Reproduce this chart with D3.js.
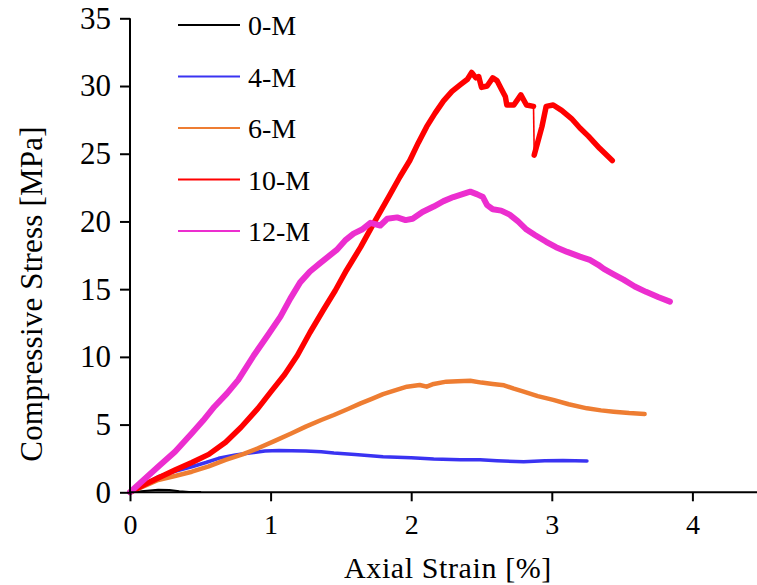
<!DOCTYPE html>
<html>
<head>
<meta charset="utf-8">
<script src="https://cdn.jsdelivr.net/npm/d3@7"></script>
<style>
  html, body { margin: 0; padding: 0; background: #fff; }
  svg { display: block; }
  text { font-family: "Liberation Serif", "Times New Roman", serif; fill: #000; }
</style>
</head>
<body>
<svg id="chart" width="757" height="585"></svg>
<script>
// ---- Data ----
const seriesNames = ["0-M", "4-M", "6-M", "10-M", "12-M"];
const seriesColors = ["#000000", "#3a33f2", "#ee7d32", "#ff0000", "#ec2ecf"];

const data0M = [[0,0],[0.1,0.1],[0.2,0.18],[0.28,0.17],[0.35,0.08],[0.42,0.03],[0.5,0.02]];
const data4M = [[0,0],[0.1,0.6],[0.2,1.15],[0.32,1.55],[0.44,1.89],[0.54,2.2],[0.63,2.51],[0.75,2.75],[0.85,2.9],[0.96,3.05],[1.06,3.08],[1.15,3.07],[1.25,3.05],[1.36,3.0],[1.45,2.9],[1.6,2.8],[1.8,2.63],[2.0,2.55],[2.16,2.46],[2.35,2.4],[2.49,2.4],[2.61,2.33],[2.8,2.26],[2.95,2.33],[3.08,2.35],[3.25,2.31]];
const data6M = [[0,0],[0.1,0.45],[0.2,0.91],[0.32,1.2],[0.44,1.52],[0.56,1.92],[0.68,2.39],[0.8,2.8],[0.91,3.25],[1.03,3.8],[1.15,4.36],[1.25,4.85],[1.36,5.34],[1.45,5.71],[1.55,6.15],[1.64,6.57],[1.72,6.9],[1.8,7.25],[1.89,7.55],[1.97,7.8],[2.06,7.92],[2.11,7.8],[2.16,8.0],[2.25,8.17],[2.33,8.2],[2.42,8.24],[2.5,8.1],[2.58,8.0],[2.66,7.9],[2.73,7.65],[2.8,7.43],[2.9,7.1],[3.01,6.82],[3.12,6.5],[3.25,6.2],[3.35,6.05],[3.44,5.95],[3.55,5.85],[3.66,5.78]];
const data10M = [[0,0],[0.1,0.55],[0.2,1.05],[0.32,1.64],[0.44,2.2],[0.56,2.8],[0.68,3.7],[0.79,4.8],[0.91,6.2],[1.0,7.4],[1.1,8.7],[1.19,10.1],[1.28,11.8],[1.375,13.46],[1.46,14.9],[1.54,16.4],[1.64,18.1],[1.73,19.8],[1.85,22.0],[1.92,23.3],[1.99,24.5],[2.05,25.8],[2.11,27.0],[2.17,28.0],[2.23,28.9],[2.29,29.6],[2.35,30.1],[2.4,30.5],[2.43,31.0],[2.46,30.6],[2.48,30.7],[2.5,29.9],[2.54,30.0],[2.58,30.6],[2.61,30.4],[2.64,29.8],[2.67,29.2],[2.68,28.6],[2.73,28.6],[2.78,29.35],[2.82,28.6],[2.87,28.5],[2.875,24.9],[2.93,27.0],[2.96,28.5],[3.01,28.6],[3.07,28.2],[3.14,27.6],[3.2,26.9],[3.26,26.3],[3.34,25.4],[3.43,24.5]];
const data12M = [[0,0],[0.1,0.95],[0.2,1.89],[0.32,3.0],[0.44,4.36],[0.52,5.3],[0.6,6.32],[0.69,7.3],[0.77,8.3],[0.88,10.1],[0.98,11.6],[1.07,12.97],[1.14,14.3],[1.21,15.5],[1.28,16.3],[1.35,16.9],[1.41,17.4],[1.47,17.9],[1.53,18.6],[1.59,19.1],[1.65,19.4],[1.71,19.9],[1.78,19.7],[1.83,20.2],[1.9,20.3],[1.96,20.1],[2.01,20.2],[2.08,20.7],[2.16,21.1],[2.23,21.5],[2.3,21.8],[2.36,22.0],[2.42,22.2],[2.47,22.0],[2.51,21.8],[2.54,21.2],[2.58,20.9],[2.64,20.8],[2.7,20.5],[2.76,20.0],[2.82,19.4],[2.88,19.0],[2.96,18.5],[3.03,18.1],[3.11,17.75],[3.2,17.4],[3.27,17.16],[3.33,16.8],[3.37,16.5],[3.44,16.1],[3.51,15.7],[3.59,15.2],[3.67,14.8],[3.76,14.4],[3.84,14.08]];

const xTicks = [0, 1, 2, 3, 4];
const yTicks = [0, 5, 10, 15, 20, 25, 30, 35];
const xTitle = "Axial  Strain [%]";
const yTitle = "Compressive Stress [MPa]";

// ---- Layout ----
const svg = d3.select("#chart");
const x = d3.scaleLinear().domain([0, 4.5]).range([130, 762.7]);
const y = d3.scaleLinear().domain([0, 35]).range([492.3, 18.3]);

const allSeries = [data0M, data4M, data6M, data10M, data12M];
const widths = [2, 3.5, 4.5, 5.5, 6];

const line = d3.line().x(d => x(d[0])).y(d => y(d[1]));

allSeries.forEach((s, i) => {
  // split where a near-vertical drop occurs: draw it thin
  const segs = [[s[0]]];
  for (let k = 1; k < s.length; k++) {
    const prev = s[k - 1], cur = s[k];
    if (Math.abs(cur[1] - prev[1]) > 3 && Math.abs(cur[0] - prev[0]) < 0.02) {
      svg.append("path").attr("d", line([prev, cur]))
        .attr("fill", "none").attr("stroke", seriesColors[i]).attr("stroke-width", 1.6);
      segs.push([cur]);
    } else {
      segs[segs.length - 1].push(cur);
    }
  }
  segs.forEach(seg => {
    svg.append("path").attr("d", line(seg))
      .attr("fill", "none").attr("stroke", seriesColors[i])
      .attr("stroke-width", widths[i])
      .attr("stroke-linejoin", "round").attr("stroke-linecap", "round");
  });
});

// ---- Axes ----
const xAxis = d3.axisBottom(x).tickValues(xTicks).tickSize(9).tickPadding(13).tickFormat(d3.format("d"));
const gx = svg.append("g").attr("transform", `translate(0,${y(0)})`).call(xAxis);
gx.select(".domain").attr("d", `M${x(0)},0H757`).attr("stroke", "#000").attr("stroke-width", 2);
gx.selectAll(".tick line").attr("stroke", "#000").attr("stroke-width", 2);
gx.selectAll(".tick text").attr("font-size", 28).attr("font-family", "Liberation Serif").attr("fill", "#000");

const yAxis = d3.axisLeft(y).tickValues(yTicks).tickSize(10).tickPadding(9).tickFormat(d3.format("d"));
const gy = svg.append("g").attr("transform", `translate(${x(0)},0)`).call(yAxis);
gy.select(".domain").attr("d", `M0,${y(35)}V${y(0)}`).attr("stroke", "#000").attr("stroke-width", 2);
gy.selectAll(".tick line").attr("stroke", "#000").attr("stroke-width", 2);
gy.selectAll(".tick text").attr("font-size", 31).attr("font-family", "Liberation Serif").attr("fill", "#000");

// ---- Titles ----
svg.append("text").attr("x", 448).attr("y", 578).attr("text-anchor", "middle")
  .attr("font-size", 30).attr("letter-spacing", 0.6).text(xTitle);
svg.append("text").attr("transform", "translate(42,294) rotate(-90)").attr("text-anchor", "middle")
  .attr("font-size", 31).attr("letter-spacing", 0.2).text(yTitle);

// ---- Legend ----
const leg = svg.append("g");
seriesNames.forEach((name, i) => {
  const ly = 25 + i * 51.5;
  leg.append("line").attr("x1", 178).attr("x2", 240).attr("y1", ly).attr("y2", ly)
    .attr("stroke", seriesColors[i]).attr("stroke-width", 2);
  leg.append("text").attr("x", 248).attr("y", ly + 10).attr("font-size", 28).text(name);
});
</script>
</body>
</html>
